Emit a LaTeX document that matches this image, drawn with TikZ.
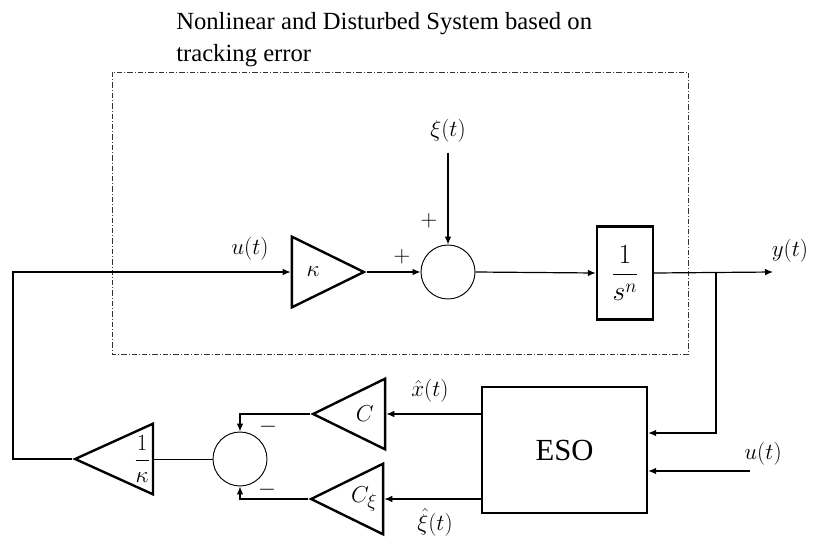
\documentclass[tikz,border=0pt]{standalone}
\usepackage{amsmath,amssymb}
\usepackage{fontspec}
\setmainfont{Liberation Serif}
\usepackage{tikz}
\usetikzlibrary{positioning,arrows.meta,shapes.geometric,calc}
\tikzset{
gain/.style={
draw,
isosceles triangle,
isosceles triangle stretches,
minimum width=53pt,
minimum height=54pt,
inner sep=1pt,
line width=1.8pt,
font=\fontsize{19}{22}\selectfont
},
sumnode/.style={
draw,
circle,
minimum size=40.5pt,
inner sep=0pt,
line width=0.7pt
},
block/.style={
draw,
line width=1.8pt,
align=center
},
lbl/.style={
font=\fontsize{19}{22}\selectfont
},
arrow/.style={
-{Latex[length=6pt,width=5pt]},
line width=0.9pt
},
sysbox/.style={
draw=black!80,
line width=0.7pt,
dash pattern=on 4pt off 1.5pt on 0.8pt off 1.5pt
}
}
\begin{document}
\begin{tikzpicture}[x=0.75pt,y=-0.75pt]
\useasboundingbox (0,0) rectangle (817,539);
\draw[sysbox](112,72) rectangle (688,354);
\node[anchor=north west,align=left,inner sep=0pt,font=\fontsize{18.5}{24}\selectfont](title) at (176,12){Nonlinear and Disturbed System based on\\tracking error};

\node[gain,anchor=apex](k) at (367,272){$\kappa$};
\node[sumnode](s1) at (448,272){};
\node[block,minimum width=42pt,minimum height=70pt,font=\fontsize{22}{26}\selectfont](p) at (625,273){$\displaystyle\frac{1}{s^{n}}$};
\node[block,minimum width=123.75pt,minimum height=94.5pt,font=\fontsize{23}{27}\selectfont](eso) at (564.5,450){ESO};
\node[gain,shape border rotate=180,anchor=apex](c1) at (310,414){$C$};
\node[gain,shape border rotate=180,anchor=apex](c2) at (308,499){$C_{\xi}$};
\node[sumnode](s2) at (240,459){};
\node[gain,shape border rotate=180,anchor=apex,font=\fontsize{17}{20}\selectfont](ik) at (72,459){$\displaystyle\frac{1}{\kappa}$};

\node[lbl](u1) at (250,249){$u(t)$};
\node[lbl](xi) at (448,131){$\xi(t)$};
\node[lbl](y) at (790,251){$y(t)$};
\node[lbl](p1) at (402,257){$+$};
\node[lbl](p2) at (429,221){$+$};
\node[lbl](m1) at (268,427){$-$};
\node[lbl](m2) at (267,490){$-$};
\node[lbl](xh) at (430,391){$\hat{x}(t)$};
\node[lbl](xih) at (435,522){$\hat{\xi}(t)$};
\node[lbl](u2) at (763,454){$u(t)$};

\coordinate(fb) at (13,459);
\coordinate(br) at (716,272);
\coordinate(bd) at (716,433);
\coordinate(yend) at (773,272);
\coordinate(uin) at (750,471);

\draw[arrow](ik.apex)--(fb)|-(k.lower side);
\draw[arrow](k.apex)--(s1.west);
\draw[arrow,shorten <=4pt](xi.south)--(s1.north);
\draw[arrow](s1.east)--(p.west);
\draw[arrow](p.east)--(yend);
\draw[arrow](br)--(bd)--(eso.east|-bd);
\draw[arrow](uin)--(eso.east|-uin);
\draw[arrow](eso.west|-c1.apex)--(c1.lower side);
\draw[arrow](eso.west|-c2.apex)--(c2.lower side);
\draw[arrow](c1.apex)-|(s2.north);
\draw[arrow](c2.apex)-|(s2.south);
\draw(s2.west)--(ik.lower side);
\end{tikzpicture}
\end{document}
